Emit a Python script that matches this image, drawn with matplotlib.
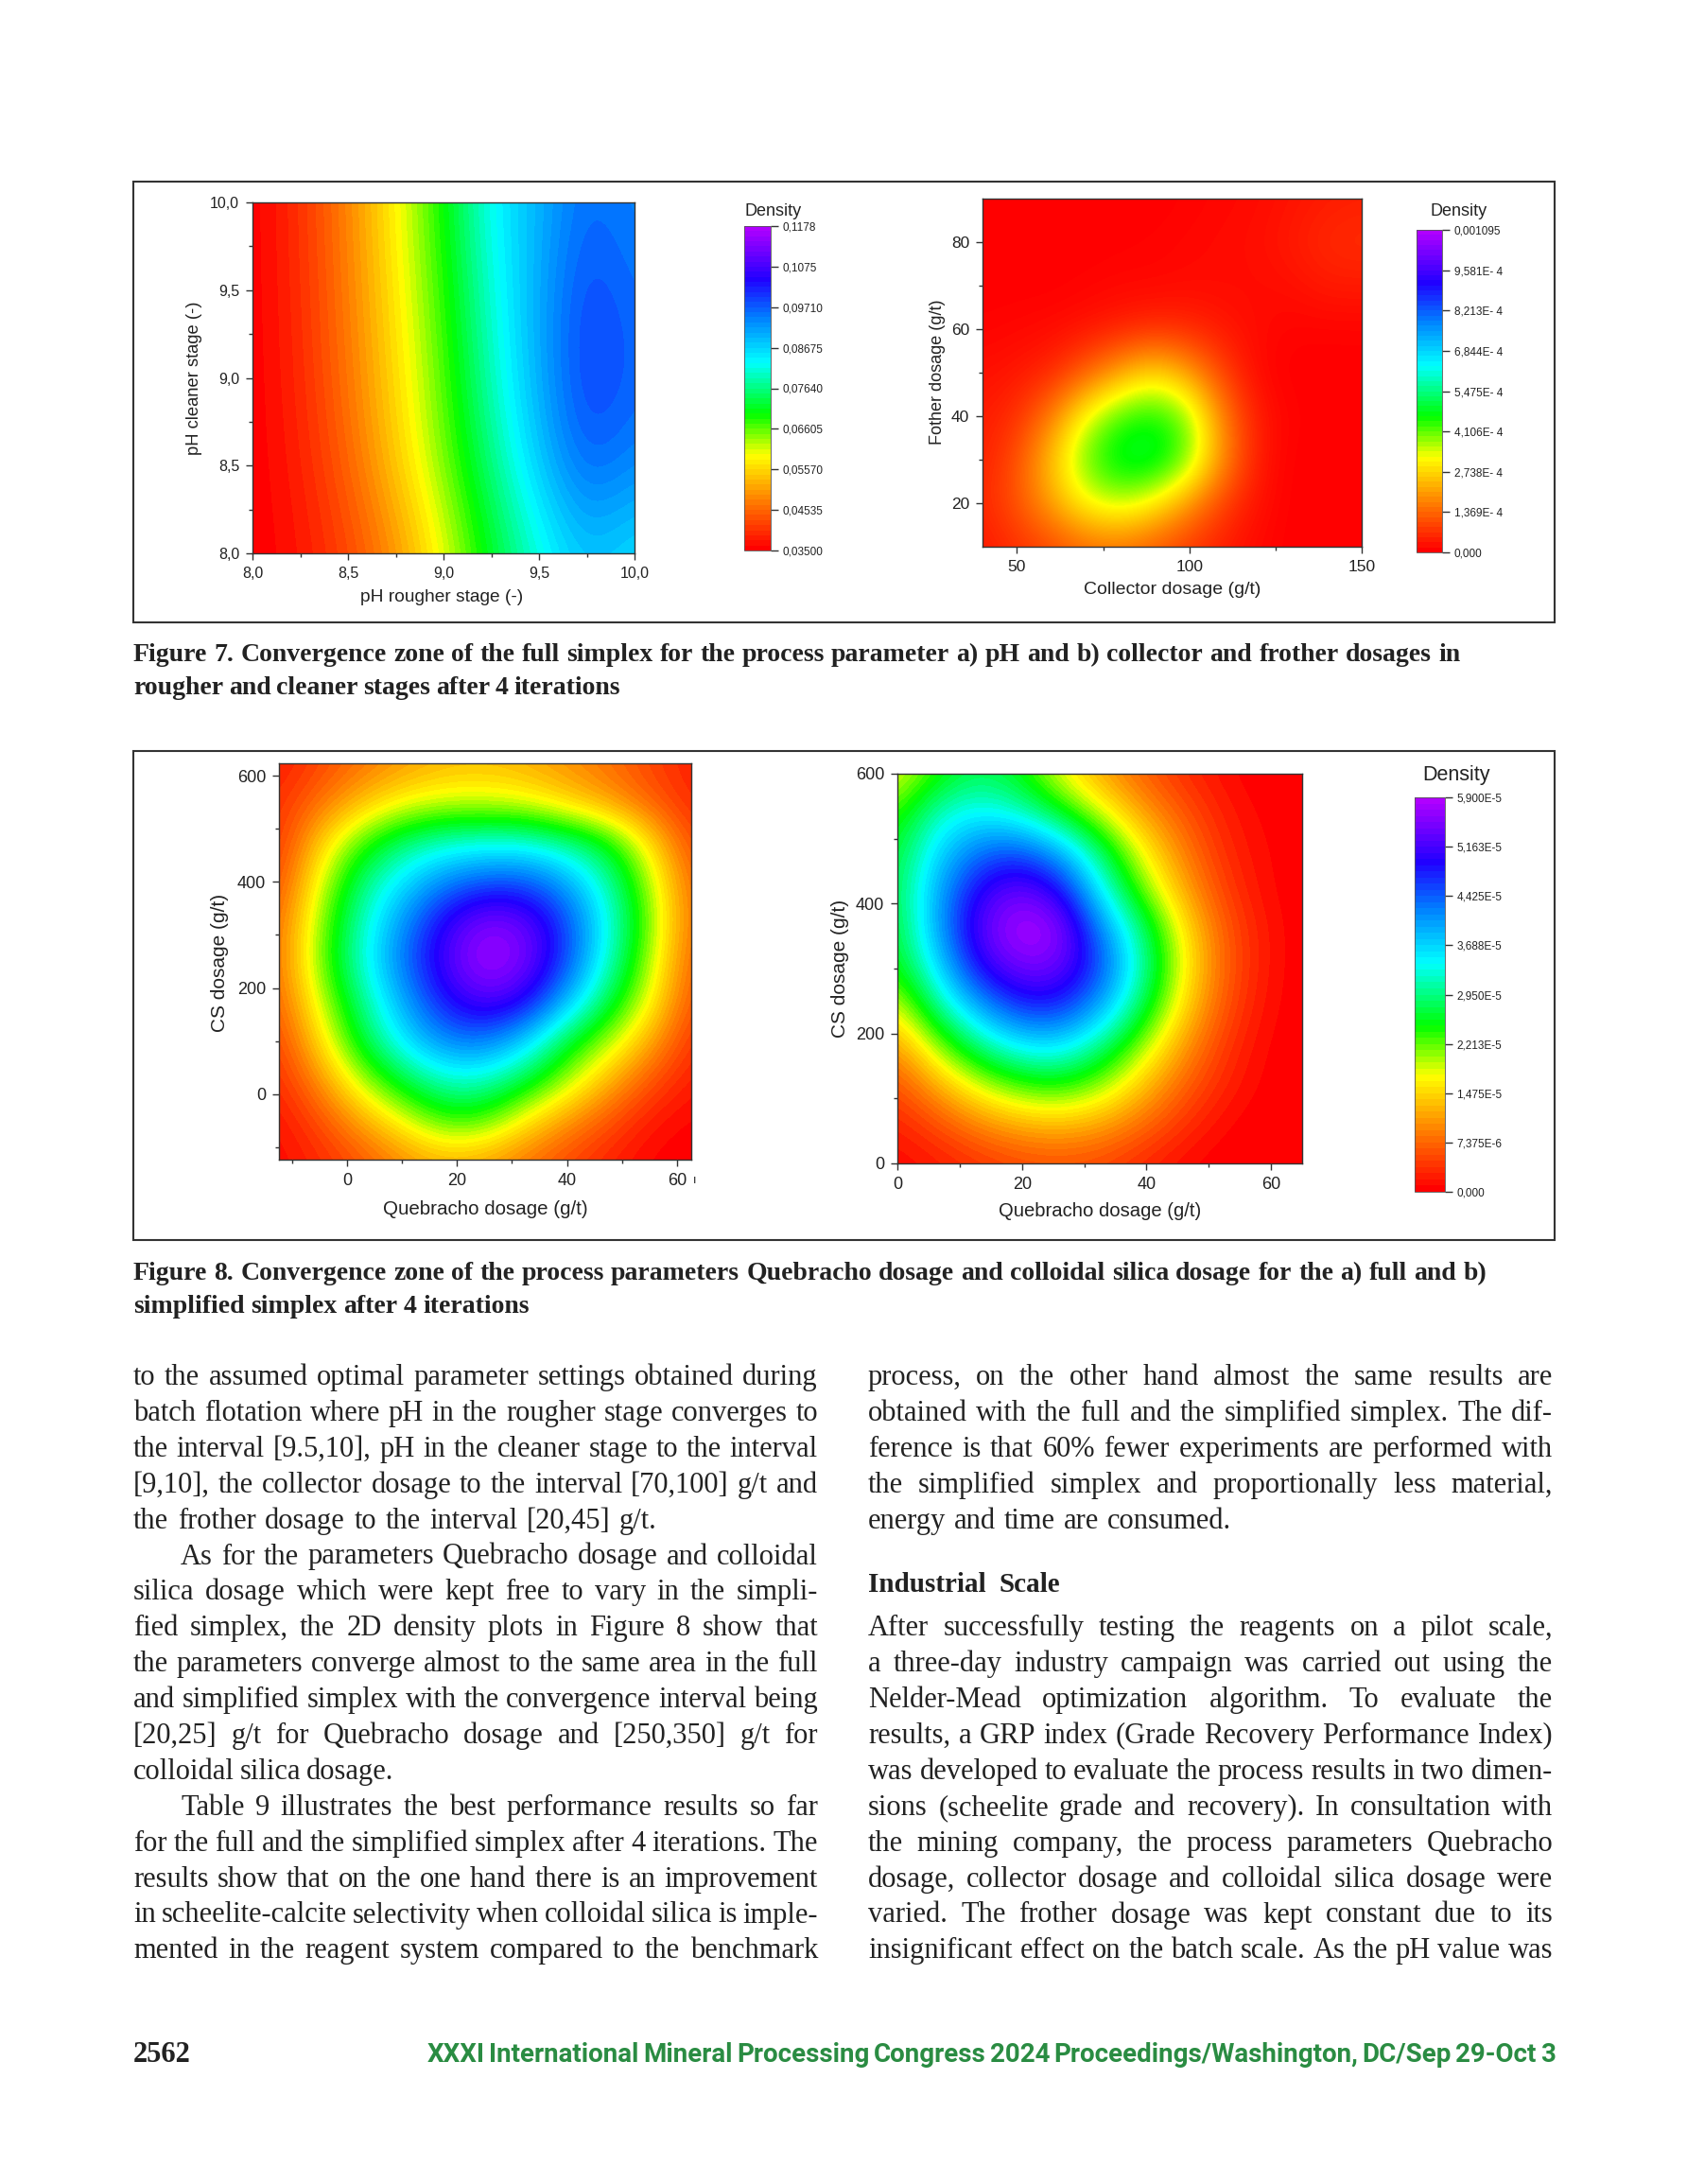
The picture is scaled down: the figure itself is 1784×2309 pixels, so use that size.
import matplotlib
matplotlib.use('Agg')
import matplotlib.pyplot as plt
from matplotlib.colors import LinearSegmentedColormap, Normalize
from matplotlib.cm import ScalarMappable
from matplotlib.patches import Rectangle

# Figure 7a
ph_rougher = [8, 8.25, 8.5, 8.75, 9, 9.25, 9.5, 9.75, 10]
ph_cleaner = [10, 9.5, 9, 8.5, 8]
ph_density = [
    [.0350, .0400, .0482, .0586, .0698, .0834, .0896, .0965, .0935],
    [.0350, .0396, .0474, .0574, .0681, .0814, .0905, .0995, .0955],
    [.0350, .0391, .0466, .0561, .0665, .0797, .0905, .1005, .0965],
    [.0350, .0383, .0449, .0545, .0648, .0764, .0880, .0975, .0935],
    [.0350, .0372, .0418, .0490, .0595, .0715, .0810, .0885, .0850],
]
ph_ticks = ['8,0', '8,5', '9,0', '9,5', '10,0']
ph_bar_labels = ['0,03500', '0,04535', '0,05570', '0,06605', '0,07640',
                 '0,08675', '0,09710', '0,1075', '0,1178']

# Figure 7b, density in units of 1E-4
collector = [40, 50, 60, 70, 80, 90, 100, 110, 120, 130, 140, 150]
frother = [90, 80, 70, 60, 50, 40, 30, 20, 10]
collector_density = [
    [0, 0, 0, 0, 0, 0, .05, .1, .15, .25, .35, .4],
    [0, 0, 0, 0, .02, .05, .1, .15, .2, .35, .55, .6],
    [0, 0, 0, .05, .1, .1, .15, .15, .15, .2, .35, .35],
    [.05, .1, .15, .25, .4, .55, .5, .3, .15, .05, .05, .05],
    [.2, .3, .5, 1.2, 2.1, 2.8, 2.0, .8, .1, 0, 0, 0],
    [.35, .6, 1.6, 3.3, 4.3, 4.6, 3.9, 1.6, .3, .05, 0, 0],
    [.4, 1.0, 2.5, 4.1, 5.0, 5.1, 4.0, 1.8, .3, 0, 0, 0],
    [.5, 1.1, 2.1, 3.2, 3.6, 3.0, 1.9, .8, .2, 0, 0, 0],
    [.3, .6, .9, 1.3, 1.4, 1.1, .7, .35, .1, 0, 0, 0],
]
collector_bar_labels = ['0,000', '1,369E- 4', '2,738E- 4', '4,106E- 4', '5,475E- 4',
                        '6,844E- 4', '8,213E- 4', '9,581E- 4', '0,001095']

# Figure 8a, density in units of 1E-5
full_quebracho = [-12.5, -5, 2.5, 10, 17.5, 25, 32.5, 40, 47.5, 55, 62.5]
full_cs = [625, 550, 475, 400, 325, 250, 175, 100, 25, -50, -125]
full_density = [
    [.2, .5, .8, 1.05, 1.25, 1.3, 1.2, 1.0, .8, .5, .25],
    [.35, .8, 1.3, 1.7, 1.85, 1.85, 1.75, 1.45, 1.1, .7, .3],
    [.35, 1.4, 2.3, 2.9, 3.2, 3.3, 3.3, 3.0, 2.55, 1.55, .5],
    [.5, 1.8, 2.9, 3.6, 4.2, 4.5, 4.5, 4.0, 3.1, 2.0, .7],
    [.7, 2.05, 3.15, 4.1, 5.0, 5.6, 5.4, 4.55, 3.35, 2.15, .75],
    [.75, 2.15, 3.25, 4.3, 5.2, 5.85, 5.55, 4.55, 3.2, 2.0, .65],
    [.65, 1.85, 2.95, 3.95, 4.85, 5.3, 5.0, 3.85, 2.75, 1.75, .55],
    [.45, 1.5, 2.65, 3.55, 4.2, 4.3, 3.7, 2.65, 2.0, 1.2, .35],
    [.3, 1.0, 1.95, 2.7, 3.2, 3.2, 2.7, 2.0, 1.25, .6, .2],
    [.15, .55, 1.15, 1.75, 2.35, 2.3, 1.6, 1.05, .6, .2, .05],
    [.1, .3, .6, .95, 1.2, 1.1, .8, .5, .25, .05, 0],
]

# Figure 8b, density in units of 1E-5
simple_quebracho = [0, 6.5, 13, 19.5, 26, 32.5, 39, 45.5, 52, 58.5, 65]
simple_cs = [600, 540, 480, 420, 360, 300, 240, 180, 120, 60, 0]
simple_density = [
    [1.7, 2.4, 2.8, 2.55, 1.75, 1.15, .7, .35, .12, 0, 0],
    [2.3, 3.2, 3.45, 3.2, 2.6, 1.85, 1.15, .65, .25, .05, 0],
    [2.6, 3.65, 4.3, 4.5, 3.95, 2.9, 1.75, .95, .35, .1, 0],
    [2.7, 3.95, 5.0, 5.45, 5.0, 3.5, 2.25, 1.25, .5, .12, 0],
    [2.6, 4.0, 5.3, 5.9, 5.75, 4.25, 3.0, 1.7, .7, .2, 0],
    [2.45, 3.6, 4.95, 5.5, 5.45, 4.6, 3.2, 1.85, .75, .2, 0],
    [1.75, 3.0, 3.95, 4.7, 4.75, 4.0, 2.85, 1.6, .65, .15, 0],
    [1.05, 2.05, 2.95, 3.5, 3.6, 3.0, 2.1, 1.15, .45, .08, 0],
    [.55, 1.2, 1.85, 2.3, 2.45, 2.1, 1.4, .75, .3, .05, 0],
    [.25, .55, .95, 1.2, 1.3, 1.15, .8, .4, .1, 0, 0],
    [.08, .2, .35, .5, .55, .5, .3, .1, 0, 0, 0],
]
simple_bar_labels = ['0,000', '7,375E-6', '1,475E-5', '2,213E-5', '2,950E-5',
                     '3,688E-5', '4,425E-5', '5,163E-5', '5,900E-5']

# Page text
caption_7 = [('Figure 7.  Convergence zone of the full simplex for the process parameter a) pH and b) collector and frother dosages in', 1544),
             ('rougher and cleaner stages after 4 iterations', 656)]
caption_8 = [('Figure 8.  Convergence zone of the process parameters Quebracho dosage and colloidal silica dosage for the a) full and b)', 1572),
             ('simplified simplex after 4 iterations', 560)]
left_column = [
    ('to the assumed optimal parameter settings obtained during', 865),
    ('batch flotation where pH in the rougher stage converges to', 865),
    ('the interval [9.5,10], pH in the cleaner stage to the interval', 865),
    ('[9,10], the collector dosage to the interval [70,100] g/t and', 865),
    ('the frother dosage to the interval [20,45] g/t.', 695),
    ('As for the parameters Quebracho dosage and colloidal', 865),
    ('silica dosage which were kept free to vary in the simpli-', 865),
    ('fied simplex, the 2D density plots in Figure 8 show that', 865),
    ('the parameters converge almost to the same area in the full', 865),
    ('and simplified simplex with the convergence interval being', 865),
    ('[20,25] g/t for Quebracho dosage and [250,350] g/t for', 865),
    ('colloidal silica dosage.', 416),
    ('Table 9 illustrates the best performance results so far', 865),
    ('for the full and the simplified simplex after 4 iterations. The', 865),
    ('results show that on the one hand there is an improvement', 865),
    ('in scheelite-calcite selectivity when colloidal silica is imple-', 865),
    ('mented in the reagent system compared to the benchmark', 865),
]
right_top = [
    ('process, on the other hand almost the same results are', 1642),
    ('obtained with the full and the simplified simplex. The dif-', 1642),
    ('ference is that 60% fewer experiments are performed with', 1642),
    ('the simplified simplex and proportionally less material,', 1642),
    ('energy and time are consumed.', 1302),
]
right_bottom = [
    ('After successfully testing the reagents on a pilot scale,', 1642),
    ('a three-day industry campaign was carried out using the', 1642),
    ('Nelder-Mead optimization algorithm. To evaluate the', 1642),
    ('results, a GRP index (Grade Recovery Performance Index)', 1642),
    ('was developed to evaluate the process results in two dimen-', 1642),
    ('sions (scheelite grade and recovery). In consultation with', 1642),
    ('the mining company, the process parameters Quebracho', 1642),
    ('dosage, collector dosage and colloidal silica dosage were', 1642),
    ('varied. The frother dosage was kept constant due to its', 1642),
    ('insignificant effect on the batch scale. As the pH value was', 1642),
]

W, H = 1784, 2309
SANS = 'Liberation Sans'
SERIF = 'Liberation Serif'

rainbow_stops = [(0.0, '#ff0000'), (0.15, '#ff8000'), (0.29, '#ffff00'), (0.42, '#00ff00'),
                 (0.58, '#00ffff'), (0.72, '#0080ff'), (0.84, '#2000ff'), (1.0, '#b000ff')]
origin_rainbow = LinearSegmentedColormap.from_list('origin_rainbow', rainbow_stops, N=64)
smooth_rainbow = LinearSegmentedColormap.from_list('smooth_rainbow', rainbow_stops, N=256)

fig = plt.figure(figsize=(W / 100, H / 100), dpi=100)
page = fig.add_axes([0, 0, 1, 1])
page.set_xlim(0, W)
page.set_ylim(H, 0)
page.axis('off')
renderer = fig.canvas.get_renderer()


def box_axes(x0, y0, x1, y1):
    # pixel box of the page -> figure axes
    return fig.add_axes([x0 / W, 1 - y1 / H, (x1 - x0) / W, (y1 - y0) / H])


def density_map(box, xs, ys, z, limits, xlim, ylim, xticks, xlabels, yticks, ylabels, xminor, yminor,
                size=11.5, cmap=origin_rainbow):
    ax = box_axes(*box)
    dx = (xs[-1] - xs[0]) / (len(xs) - 1) / 2
    dy = (ys[0] - ys[-1]) / (len(ys) - 1) / 2
    ax.imshow(z, extent=[xs[0] - dx, xs[-1] + dx, ys[-1] - dy, ys[0] + dy], origin='upper', aspect='auto',
              cmap=cmap, norm=Normalize(*limits), interpolation='bicubic', interpolation_stage='data')
    ax.set_xlim(*xlim)
    ax.set_ylim(*ylim)
    ax.set_xticks(xticks, xlabels, fontsize=size, family=SANS, color='#222222')
    ax.set_yticks(yticks, ylabels, fontsize=size, family=SANS, color='#222222')
    ax.set_xticks(xminor, minor=True)
    ax.set_yticks(yminor, minor=True)
    ax.tick_params(which='major', length=5, width=1, pad=5, color='#333333')
    ax.tick_params(which='minor', length=3, width=1, color='#333333')
    for side in ax.spines.values():
        side.set_linewidth(1)
        side.set_color('#333333')
    return ax


def density_bar(box, limits, labels):
    cax = box_axes(*box)
    bar = fig.colorbar(ScalarMappable(Normalize(*limits), origin_rainbow), cax=cax)
    step = (limits[1] - limits[0]) / (len(labels) - 1)
    bar.set_ticks([limits[0] + i * step for i in range(len(labels))], labels=labels)
    bar.ax.tick_params(length=6, width=1, pad=3, labelsize=8.5, color='#333333', labelcolor='#222222')
    for lab in bar.ax.get_yticklabels():
        lab.set_family(SANS)
    bar.outline.set_linewidth(0.6)
    bar.outline.set_edgecolor('#555555')


def label(x, y, text, size=14, rotation=0, color='#222222', **kw):
    page.text(x, y, text, fontsize=size, rotation=rotation, ha='center', va='center', family=SANS, color=color, **kw)


def put_line(text, x0, x1, y, size, weight='normal', family=SERIF, color='#222222'):
    # lays the words out one by one so the line fills x0..x1
    words = text.split()
    items = [page.text(x0, y, w, fontsize=size, fontweight=weight, family=family, color=color, va='baseline') for w in words]
    widths = [t.get_window_extent(renderer).width for t in items]
    gap = (x1 - x0 - sum(widths)) / max(len(words) - 1, 1)
    x = x0
    for t, w in zip(items, widths):
        t.set_x(x)
        x += w + gap


def put_block(lines, x0, first_y, step, size, weight='normal', indents=()):
    for i, (text, x1) in enumerate(lines):
        put_line(text, x0 + (50 if i in indents else 0), x1, first_y + i * step, size, weight)


# outer frames round the two figures
for x0, y0, x1, y1 in [(141, 192, 1644, 658), (141, 794, 1644, 1311)]:
    page.add_patch(Rectangle((x0, y0), x1 - x0, y1 - y0, fill=False, edgecolor='#333333', linewidth=1.5))

# Figure 7a
density_map((267, 214, 671, 585), ph_rougher, ph_cleaner, ph_density, (.035, .1178), (8, 10), (8, 10),
            [8, 8.5, 9, 9.5, 10], ph_ticks, [8, 8.5, 9, 9.5, 10], ph_ticks,
            [8.25, 8.75, 9.25, 9.75], [8.25, 8.75, 9.25, 9.75])
density_bar((787, 239, 815, 582), (.035, .1178), ph_bar_labels)
label(818, 223, 'Density', 13)
label(467, 632, 'pH rougher stage (-)', 13.8)
label(206, 400, 'pH cleaner stage (-)', 13.2, rotation=90)

# Figure 7b
density_map((1039, 210, 1440, 578), collector, frother, collector_density, (0, 10.95), (40, 150), (10, 90),
            [50, 100, 150], ['50', '100', '150'], [20, 40, 60, 80], ['20', '40', '60', '80'],
            [75, 125], [30, 50, 70], size=12.5, cmap=smooth_rainbow)
density_bar((1498, 243, 1525, 584), (0, 10.95), collector_bar_labels)
label(1543, 224, 'Density', 13)
label(1240, 623, 'Collector dosage (g/t)')
label(991, 393, 'Fother dosage (g/t)', 13, rotation=90)

# Figure 8a
density_map((295, 807, 731, 1226), full_quebracho, full_cs, full_density, (0, 5.9), (-12.4, 62.6), (-124, 624),
            [0, 20, 40, 60], ['0', '20', '40', '60'], [0, 200, 400, 600], ['0', '200', '400', '600'],
            [-10, 10, 30, 50], [-100, 100, 300, 500], size=13)
label(513, 1278, 'Quebracho dosage (g/t)', 14.8)
label(233, 1018, 'CS dosage (g/t)', 15, rotation=90)
label(735, 1248, 'ı', 9)

# Figure 8b
density_map((949, 818, 1377, 1230), simple_quebracho, simple_cs, simple_density, (0, 5.9), (0, 65), (0, 600),
            [0, 20, 40, 60], ['0', '20', '40', '60'], [0, 200, 400, 600], ['0', '200', '400', '600'],
            [10, 30, 50], [100, 300, 500], size=13)
density_bar((1496, 843, 1528, 1260), (0, 5.9), simple_bar_labels)
label(1540, 820, 'Density', 15.5)
label(1163, 1280, 'Quebracho dosage (g/t)', 14.6)
label(889, 1024, 'CS dosage (g/t)', 15, rotation=90)

# captions and body text
put_block(caption_7, 141, 699, 35, 20, 'bold')
put_block(caption_8, 141, 1353, 35, 20, 'bold')
put_block(left_column, 141, 1464, 37.9, 22, indents=(5, 12))
put_block(right_top, 918, 1464, 37.9, 22)
put_line('Industrial Scale', 918, 1121, 1683, 21, 'bold')
put_block(right_bottom, 918, 1464 + 7 * 37.9, 37.9, 22)

# footer
put_line('2562', 141, 200, 2180, 22, 'bold')
put_line('XXXI International Mineral Processing Congress 2024 Proceedings/Washington, DC/Sep 29-Oct 3',
         452, 1645, 2180, 20, 'bold', family='Roboto', color='#2a8c42')

fig.savefig('out.png', dpi=100)
